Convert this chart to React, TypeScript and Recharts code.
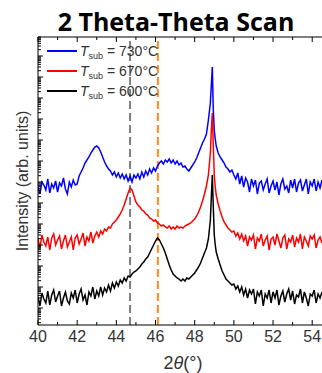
import React from 'react';
import { LineChart, Line, XAxis, YAxis, ReferenceLine } from 'recharts';

// 2-theta positions (deg)
const X = [
  40.0, 40.1, 40.2, 40.3, 40.4, 40.5, 40.6, 40.7, 40.8, 40.9,
  41.0, 41.1, 41.2, 41.3, 41.4, 41.5, 41.6, 41.7, 41.8, 41.9,
  42.0, 42.1, 42.2, 42.3, 42.4, 42.5, 42.6, 42.7, 42.8, 42.9,
  43.0, 43.1, 43.2, 43.3, 43.4, 43.5, 43.6, 43.7, 43.8, 43.9,
  44.0, 44.1, 44.2, 44.3, 44.4, 44.5, 44.6, 44.7, 44.8, 44.9,
  45.0, 45.1, 45.2, 45.3, 45.4, 45.5, 45.6, 45.7, 45.8, 45.9,
  46.0, 46.1, 46.2, 46.3, 46.4, 46.5, 46.6, 46.7, 46.8, 46.9,
  47.0, 47.1, 47.2, 47.3, 47.4, 47.5, 47.6, 47.7, 47.8, 47.9,
  48.0, 48.1, 48.2, 48.3, 48.4, 48.5, 48.6, 48.7, 48.8,
  48.85, 48.9, 48.95, 49.0, 49.05, 49.1,
  49.2, 49.3, 49.4, 49.5, 49.6, 49.7, 49.8, 49.9,
  50.0, 50.1, 50.2, 50.3, 50.4, 50.5, 50.6, 50.7, 50.8, 50.9,
  51.0, 51.1, 51.2, 51.3, 51.4, 51.5, 51.6, 51.7, 51.8, 51.9,
  52.0, 52.1, 52.2, 52.3, 52.4, 52.5, 52.6, 52.7, 52.8, 52.9,
  53.0, 53.1, 53.2, 53.3, 53.4, 53.5, 53.6, 53.7, 53.8, 53.9,
  54.0, 54.1, 54.2, 54.3, 54.4, 54.5,
];

// intensities, arb. units (offset stack)
const T730 = [
  138, 131, 143, 140, 135, 146, 132, 141, 137, 144,
  133, 142, 139, 147, 136, 131, 143, 138, 145, 140,
  141, 149, 153, 157, 162, 165, 168, 172, 175, 178,
  179, 177, 173, 168, 163, 159, 156, 154, 150, 153,
  148, 152, 147, 151, 146, 150, 144, 149, 143, 150,
  147, 151, 146, 153, 148, 154, 150, 156, 152, 157,
  154, 159, 162, 164, 161, 165, 163, 166, 162, 165,
  161, 164, 160, 162, 158, 159, 156, 154, 157, 160,
  163, 167, 172, 177, 182, 186, 191, 205, 222,
  240, 258, 215, 195, 186, 179,
  172, 168, 165, 162, 158, 156, 153, 155,
  150, 146, 152, 141, 149, 138, 147, 143, 133, 146,
  139, 145, 131, 142, 144, 135, 141, 146, 132, 139,
  144, 135, 143, 130, 141, 146, 136, 139, 132, 145,
  137, 146, 133, 142, 145, 134, 140, 146, 131, 143,
  139, 146, 134, 143, 137, 145,
];

const T670 = [
  86, 77, 90, 83, 79, 88, 75, 87, 91, 80,
  85, 89, 76, 84, 90, 78, 83, 88, 75, 87,
  90, 81, 86, 92, 79, 88, 84, 93, 82, 89,
  93, 88, 94, 91, 96, 94, 98, 97, 101, 103,
  105, 108, 111, 115, 120, 126, 132, 137, 135, 129,
  123, 120, 118, 115, 114, 111, 110, 107, 106, 104,
  105, 102, 101, 99, 100, 98, 97, 99, 96, 98,
  96, 99, 97, 98, 97, 99, 100, 101, 102, 104,
  106, 109, 113, 118, 124, 131, 139, 150, 172,
  195, 212, 180, 150, 138, 130,
  121, 114, 108, 103, 100, 97, 95, 93,
  94, 89, 92, 86, 91, 84, 89, 79, 88, 85,
  90, 76, 87, 84, 91, 79, 85, 89, 75, 86,
  88, 80, 91, 84, 77, 87, 90, 76, 86, 83,
  90, 78, 87, 83, 91, 76, 88, 84, 79, 89,
  86, 90, 77, 85, 88, 82,
];

const T600 = [
  28, 19, 32, 26, 22, 34, 20, 30, 35, 23,
  29, 34, 19, 27, 33, 24, 21, 32, 27, 35,
  22, 31, 36, 25, 30, 20, 33, 29, 38, 26,
  34, 29, 38, 30, 37, 33, 40, 34, 42, 37,
  43, 39, 45, 42, 47, 44, 49, 48, 51, 53,
  54, 56, 58, 61, 63, 66, 68, 72, 76, 80,
  84, 87, 85, 81, 77, 72, 66, 60, 55, 51,
  49, 47, 46, 44, 46, 44, 47, 46, 48, 50,
  52, 55, 58, 62, 67, 72, 77, 86, 105,
  128, 150, 118, 90, 80, 73,
  66, 60, 54, 50, 46, 44, 42, 40,
  41, 36, 39, 33, 38, 30, 36, 27, 35, 31,
  36, 21, 33, 29, 35, 19, 31, 27, 35, 22,
  33, 27, 35, 20, 29, 34, 23, 31, 36, 25,
  34, 21, 30, 28, 36, 22, 33, 27, 19, 31,
  29, 35, 22, 31, 27, 33,
];

const X_TICKS = [40, 41, 42, 43, 44, 45, 46, 47, 48, 49, 50, 51, 52, 53, 54];
const X_LABELED = [40, 42, 44, 46, 48, 50, 52, 54];
const GRAY_LINE = 44.7;
const ORANGE_LINE = 46.12;

const LEGEND = [
  { label: '730°C', color: '#0000ff' },
  { label: '670°C', color: '#ff0000' },
  { label: '600°C', color: '#000000' },
];

const data = X.map((x, i) => ({ x, a: T730[i], b: T670[i], c: T600[i] }));

// log-looking minor ticks on the unlabeled intensity axis
const Y_MAJOR: number[] = [];
const Y_TICKS: number[] = [];
for (let base = -4; base < 288; base += 21) {
  for (let m = 1; m <= 9; m++) {
    const v = base + 21 * Math.log10(m);
    if (v > 0 && v < 288) {
      Y_TICKS.push(v);
      if (m === 1) Y_MAJOR.push(v);
    }
  }
}

const FONT = '"Liberation Sans", Arial, sans-serif';

const BottomTick = (props: any) => {
  const { x, y, payload } = props;
  const v = payload.value;
  const major = X_LABELED.includes(v);
  return (
    <g>
      <line x1={x} x2={x} y1={y} y2={y - (major ? 5 : 3)} stroke="#000" />
      {major && (
        <text x={x} y={y + 17} textAnchor="middle" fontSize={16} fontFamily={FONT} fill="#333">
          {v}
        </text>
      )}
    </g>
  );
};

const TopTick = (props: any) => {
  const { x, y, payload } = props;
  const major = X_LABELED.includes(payload.value);
  return <line x1={x} x2={x} y1={y} y2={y + (major ? 5 : 3)} stroke="#000" />;
};

const LeftTick = (props: any) => {
  const { x, y, payload } = props;
  const major = Y_MAJOR.includes(payload.value);
  return <line x1={x} x2={x + (major ? 5 : 3)} y1={y} y2={y} stroke="#000" />;
};

export default function App() {
  return (
    <div style={{ position: 'absolute', left: 0, top: 0, width: 322, height: 373, background: '#fff' }}>
      <LineChart width={322} height={373} data={data} margin={{ top: 36, right: 0, bottom: 0, left: 37 }}>
        <XAxis
          xAxisId="b"
          dataKey="x"
          type="number"
          domain={[40, 54.5]}
          ticks={X_TICKS}
          interval={0}
          allowDataOverflow
          tickLine={false}
          tickSize={0}
          tickMargin={0}
          tick={<BottomTick />}
          height={48}
          stroke="#000"
        />
        <XAxis
          xAxisId="t"
          orientation="top"
          dataKey="x"
          type="number"
          domain={[40, 54.5]}
          ticks={X_TICKS}
          interval={0}
          allowDataOverflow
          tickLine={false}
          tickSize={0}
          tickMargin={0}
          tick={<TopTick />}
          height={1}
          stroke="#000"
        />
        <YAxis
          type="number"
          domain={[0, 288]}
          ticks={Y_TICKS}
          interval={0}
          allowDataOverflow
          tickLine={false}
          tickSize={0}
          tickMargin={0}
          tick={<LeftTick />}
          width={1}
          stroke="#000"
        />
        <ReferenceLine xAxisId="b" x={GRAY_LINE} stroke="#808080" strokeWidth={2} strokeDasharray="8 4" />
        <ReferenceLine xAxisId="b" x={ORANGE_LINE} stroke="#ff8c1a" strokeWidth={2} strokeDasharray="8 4" />
        <Line xAxisId="b" dataKey="a" stroke="#0000ff" strokeWidth={1.5} dot={false} isAnimationActive={false} />
        <Line xAxisId="b" dataKey="b" stroke="#ff0000" strokeWidth={1.5} dot={false} isAnimationActive={false} />
        <Line xAxisId="b" dataKey="c" stroke="#000000" strokeWidth={1.5} dot={false} isAnimationActive={false} />
      </LineChart>
      <svg width={322} height={373} style={{ position: 'absolute', left: 0, top: 0, pointerEvents: 'none' }}>
        <text x={176} y={31} textAnchor="middle" fontSize={25} fontWeight={700} fontFamily='"Open Sans", sans-serif' fill="#000">
          2 Theta-Theta Scan
        </text>
        {LEGEND.map((item, i) => (
          <g key={item.label}>
            <line x1={47} x2={77} y1={51 + i * 20} y2={51 + i * 20} stroke={item.color} strokeWidth={2} />
            <text x={80} y={56 + i * 20} fontSize={14} fontFamily={FONT} fill="#333">
              <tspan fontStyle="italic">T</tspan>
              <tspan fontSize={9} dy={3}>sub</tspan>
              <tspan dy={-3}> = {item.label}</tspan>
            </text>
          </g>
        ))}
        <text
          x={28}
          y={181}
          transform="rotate(-90, 28, 181)"
          textAnchor="middle"
          fontSize={16}
          fontFamily={FONT}
          fill="#333"
        >
          Intensity (arb. units)
        </text>
        <text x={183} y={369} textAnchor="middle" fontSize={18} fontFamily={FONT} fill="#333">
          2<tspan fontStyle="italic">θ</tspan>(°)
        </text>
      </svg>
    </div>
  );
}
